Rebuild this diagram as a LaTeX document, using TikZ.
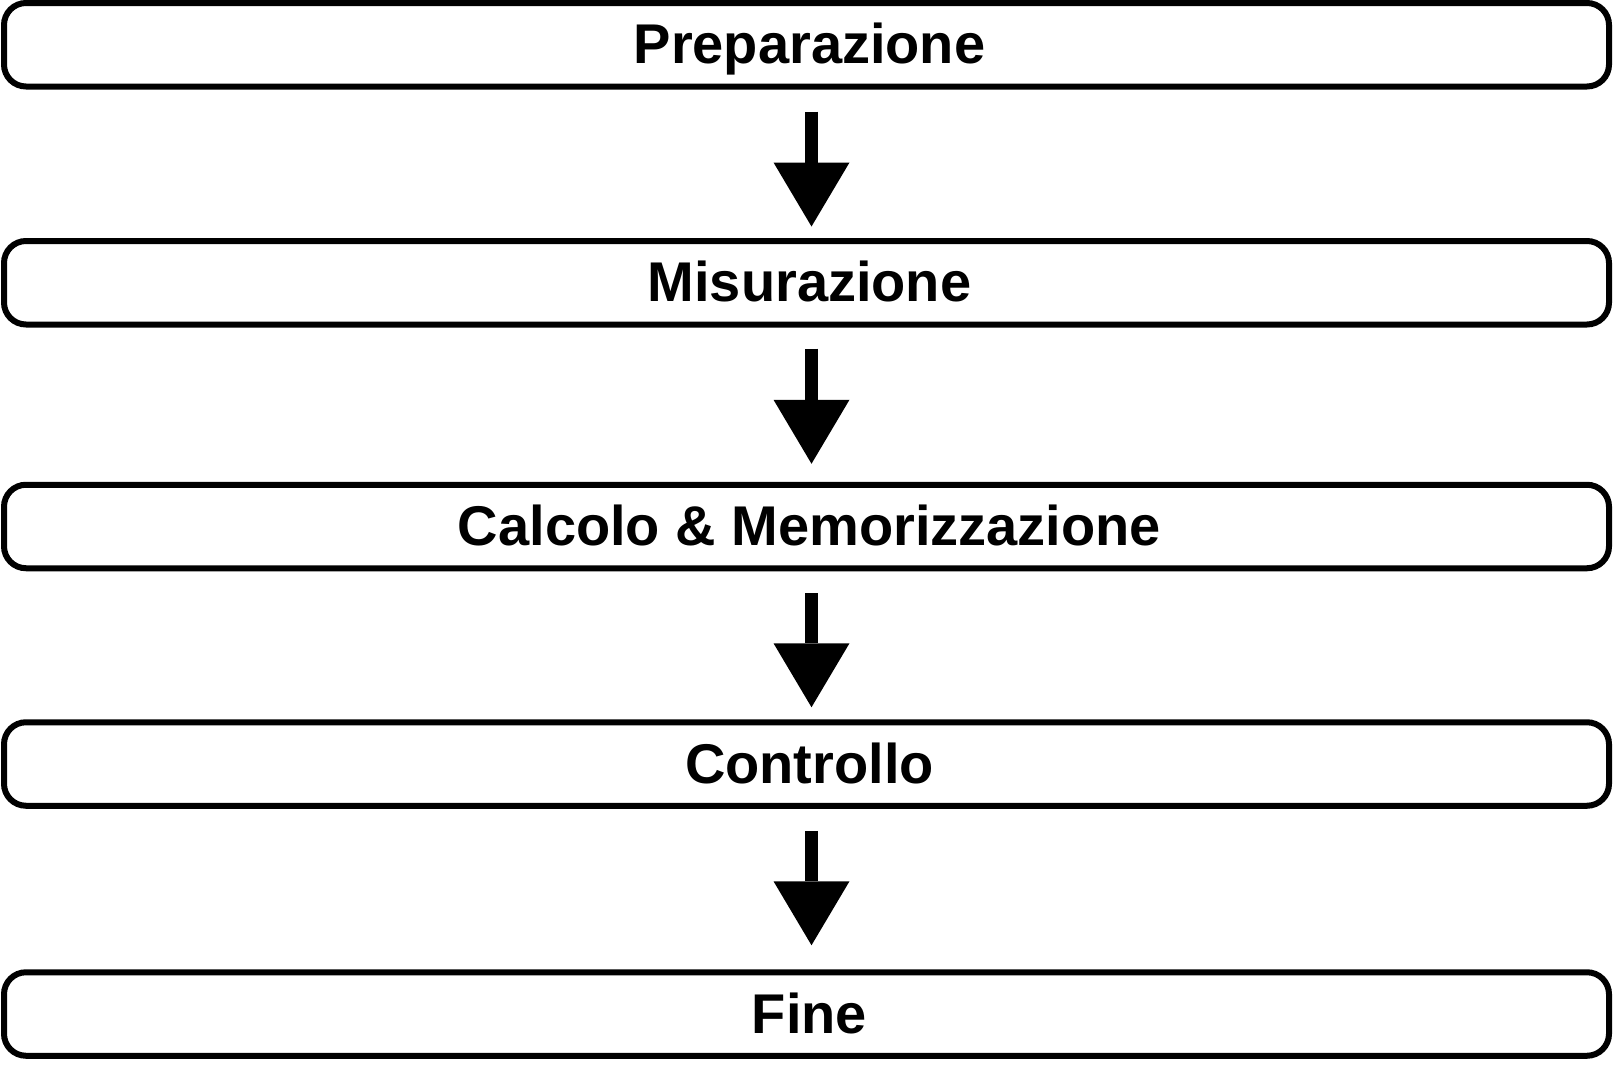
\documentclass[tikz,border=0pt]{standalone}
\usepackage{fontspec}
\setmainfont{Liberation Sans}
\usetikzlibrary{arrows.meta}
\begin{document}
\begin{tikzpicture}[x=1pt,y=-1pt,
  stepbox/.style={draw=black, line width=6pt, rounded corners=22pt,
    minimum width=1605pt, minimum height=83.5pt, inner sep=0pt, outer sep=0pt,
    text height=38pt, text depth=0pt,
    font=\fontsize{56}{60}\selectfont\bfseries},
  flow/.style={line width=13pt,
    -{Triangle[width=76pt,length=64pt,line width=0pt]}}]
\useasboundingbox (0,0) rectangle (1616,1068);
\node[stepbox] (b1) at (806.5,44.75) {\hspace*{6pt}Preparazione};
\node[stepbox] (b2) at (806.5,282.75) {\hspace*{6pt}Misurazione};
\node[stepbox] (b3) at (806.5,526.5) {\hspace*{6pt}Calcolo \& Memorizzazione};
\node[stepbox] (b4) at (806.5,764) {\hspace*{6pt}Controllo};
\node[stepbox] (b5) at (806.5,1014) {\hspace*{6pt}Fine};
\draw[flow, shorten <=25.2pt, shorten >=14.5pt] ([xshift=5pt]b1.south) -- ([xshift=5pt]b2.north);
\draw[flow, shorten <=24pt, shorten >=21pt] ([xshift=5pt]b2.south) -- ([xshift=5pt]b3.north);
\draw[flow, shorten <=25pt, shorten >=15pt] ([xshift=5pt]b3.south) -- ([xshift=5pt]b4.north);
\draw[flow, shorten <=25pt, shorten >=27pt] ([xshift=5pt]b4.south) -- ([xshift=5pt]b5.north);
\end{tikzpicture}
\end{document}
